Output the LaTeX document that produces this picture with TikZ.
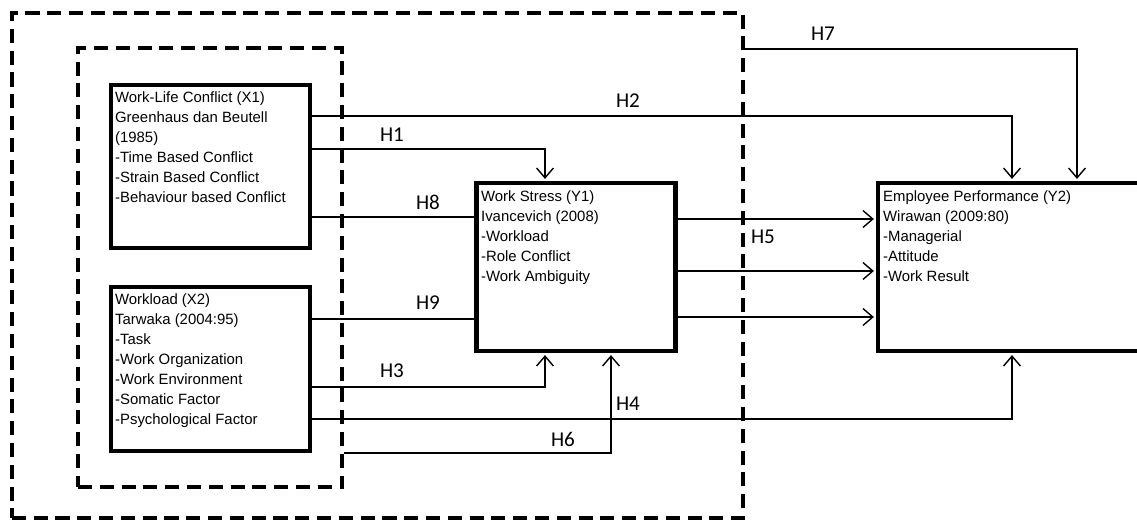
\documentclass[tikz,border=0pt]{standalone}
\usepackage{fontspec}
\setmainfont{Liberation Sans}
\newfontfamily\hypfont{Carlito}
\usetikzlibrary{arrows.meta}

\tikzset{
  frame/.style={draw, line width=3pt, inner sep=0pt},
  fence/.style={draw, line width=2.5pt, dash pattern=on 10pt off 5.5pt, inner sep=0pt},
  boxtext/.style={anchor=north west, inner sep=0pt, align=left, font=\fontsize{10.6}{14.2}\selectfont},
  hyp/.style={font=\hypfont\fontsize{15}{15}\selectfont},
  link/.style={line width=1pt, -{Straight Barb[length=7pt,width=12pt]}, shorten >=1.4pt},
  plain/.style={line width=1pt}
}

\begin{document}
\begin{tikzpicture}[x=0.025cm, y=-0.025cm]
   \useasboundingbox (0,0) rectangle (1137,521);

   % dashed frames
   \node[fence, minimum width=18.275cm, minimum height=12.625cm] (outer) at (377.5,265.5) {};
   \node[fence, minimum width=6.6cm, minimum height=10.975cm] (inner) at (210,267.5) {};

   % variable boxes
   \node[frame, minimum width=4.975cm, minimum height=4.075cm] (X1) at (210.5,166.5) {};
   \node[frame, minimum width=4.975cm, minimum height=4.1cm] (X2) at (210.5,369) {};
   \node[frame, minimum width=4.975cm, minimum height=4.2cm] (Y1) at (576,267) {};
   \node[frame, minimum width=6.675cm, minimum height=4.2cm] (Y2) at (1011.5,267) {};

   \node[boxtext, shift={(6,8.5)}] (X1txt) at (X1.north west) {Work-Life Conflict (X1)\\Greenhaus dan Beutell\\(1985)\\-Time Based Conflict\\-Strain Based Conflict\\-Behaviour based Conflict};
   \node[boxtext, shift={(6,8.5)}] (X2txt) at (X2.north west) {Workload (X2)\\Tarwaka (2004:95)\\-Task\\-Work Organization\\-Work Environment\\-Somatic Factor\\-Psychological Factor};
   \node[boxtext, shift={(6.5,10)}] (Y1txt) at (Y1.north west) {Work Stress (Y1)\\Ivancevich (2008)\\-Workload\\-Role Conflict\\-Work Ambiguity};
   \node[boxtext, shift={(7,10)}] (Y2txt) at (Y2.north west) {Employee Performance (Y2)\\Wirawan (2009:80)\\-Managerial\\-Attitude\\-Work Result};

   % rows and columns of the connectors
   \coordinate (r7) at (0,49);
   \coordinate (r2) at (0,116);
   \coordinate (r1) at (0,149);
   \coordinate (r8) at (0,217);
   \coordinate (r5a) at (0,219);
   \coordinate (r5b) at (0,271);
   \coordinate (r5c) at (0,317);
   \coordinate (r9) at (0,319);
   \coordinate (r3) at (0,387);
   \coordinate (r4) at (0,419);
   \coordinate (r6) at (0,453);
   \coordinate (c1) at (545,0);
   \coordinate (c6) at (611,0);
   \coordinate (c2) at (1012,0);
   \coordinate (c7) at (1077,0);

   \draw[link] (X1.east |- r2) -| (Y2.north -| c2);
   \draw[link] (X1.east |- r1) -| (Y1.north -| c1);
   \draw[plain] (X1.east |- r8) -- (Y1.west |- r8);
   \draw[plain] (X2.east |- r9) -- (Y1.west |- r9);
   \draw[link] (X2.east |- r3) -| (Y1.south -| c1);
   \draw[link] (X2.east |- r4) -| (Y2.south -| c2);
   \draw[link] (inner.east |- r6) -| (Y1.south -| c6);
   \draw[link] (outer.east |- r7) -| (Y2.north -| c7);
   \draw[link] (Y1.east |- r5a) -- (Y2.west |- r5a);
   \draw[link] (Y1.east |- r5b) -- (Y2.west |- r5b);
   \draw[link] (Y1.east |- r5c) -- (Y2.west |- r5c);

   % hypothesis labels
   \node[hyp] (lH7) at (823,34) {H7};
   \node[hyp] (lH2) at (628,101) {H2};
   \node[hyp] (lH1) at (392,135) {H1};
   \node[hyp] (lH8) at (428,202) {H8};
   \node[hyp] (lH5) at (763,237) {H5};
   \node[hyp] (lH9) at (428,303) {H9};
   \node[hyp] (lH3) at (392,371) {H3};
   \node[hyp] (lH4) at (628,404) {H4};
   \node[hyp] (lH6) at (563,439) {H6};
\end{tikzpicture}
\end{document}
